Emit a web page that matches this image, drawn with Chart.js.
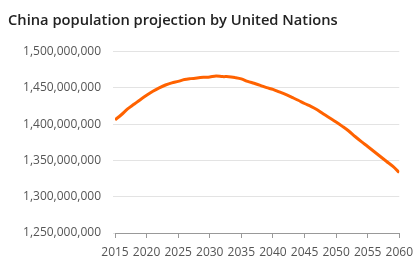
<!DOCTYPE html>
<html>
<head>
<meta charset="utf-8">
<script src="https://cdn.jsdelivr.net/npm/chart.js@4.4.0/dist/chart.umd.min.js"></script>
<style>
  html, body { margin: 0; padding: 0; background: #fff; }
  #wrap { width: 420px; height: 258px; }
</style>
</head>
<body>
<div id="wrap"><canvas id="myChart" width="420" height="258"></canvas></div>
<script>
// years and UN projection values
var years = [];
for (var yr = 2015; yr <= 2060; yr++) years.push(yr);

var population = [
  1406000000, 1413000000, 1421000000, 1427400000, 1433800000, // 2015-2019
  1439800000, 1445300000, 1450000000, 1454000000, 1457000000, // 2020-2024
  1459000000, 1461500000, 1462800000, 1463800000, 1464600000, // 2025-2029
  1465200000, 1466500000, 1465600000, 1465500000, 1464200000, // 2030-2034
  1462400000, 1459000000, 1456400000, 1453600000, 1450400000, // 2035-2039
  1448000000, 1444500000, 1441000000, 1437000000, 1433000000, // 2040-2044
  1428500000, 1424600000, 1420000000, 1414000000, 1408500000, // 2045-2049
  1403000000, 1397000000, 1390600000, 1383000000, 1376000000, // 2050-2054
  1369300000, 1362400000, 1355500000, 1348600000, 1341700000, // 2055-2059
  1333400000                                                  // 2060
];

var yMin = 1250000000, yMax = 1500000000, yStep = 50000000;
var xTickStep = 5;

var points = years.map(function(y, i){ return {x: y, y: population[i]}; });

const config = {
    type: 'line',
    data: {
        datasets: [{
            label: 'China population',
            data: points,
            borderColor: '#ff6200',
            borderWidth: 3,
            pointRadius: 0,
            tension: 0.3,
            fill: false
        }]
    },
    options: {
        responsive: false,
        animation: false,
        layout: { padding: { left: 8, right: 15, top: 0, bottom: 0 } },
        plugins: {
            legend: { display: false },
            tooltip: { enabled: false },
            title: {
                display: true,
                text: 'China population projection by United Nations',
                align: 'start',
                color: '#222',
                font: { family: 'Open Sans', size: 14.7, weight: '600' },
                padding: { top: 12, bottom: 22 }
            }
        },
        scales: {
            x: {
                type: 'linear',
                min: years[0],
                max: years[years.length - 1],
                afterFit: function(scale){ scale.height = 25; },
                ticks: {
                    stepSize: xTickStep,
                    color: '#555',
                    padding: 7,
                    maxRotation: 0,
                    font: { family: 'Open Sans', size: 12 },
                    callback: function(v){ return String(v); }
                },
                grid: {
                    drawOnChartArea: false,
                    drawTicks: true,
                    tickLength: 5,
                    color: '#999'
                },
                border: { display: true, color: '#999', width: 1 }
            },
            y: {
                min: yMin,
                max: yMax,
                afterFit: function(scale){ scale.width = 107; },
                ticks: {
                    stepSize: yStep,
                    color: '#555',
                    padding: 12,
                    font: { family: 'Open Sans', size: 12 },
                    callback: function(v){ return v.toLocaleString('en-US'); }
                },
                grid: {
                    color: '#e3e3e3',
                    tickLength: 2,
                    lineWidth: 1
                },
                border: { display: false }
            }
        }
    }
};

var myChart = new Chart(document.getElementById('myChart'), config);
</script>
</body>
</html>
